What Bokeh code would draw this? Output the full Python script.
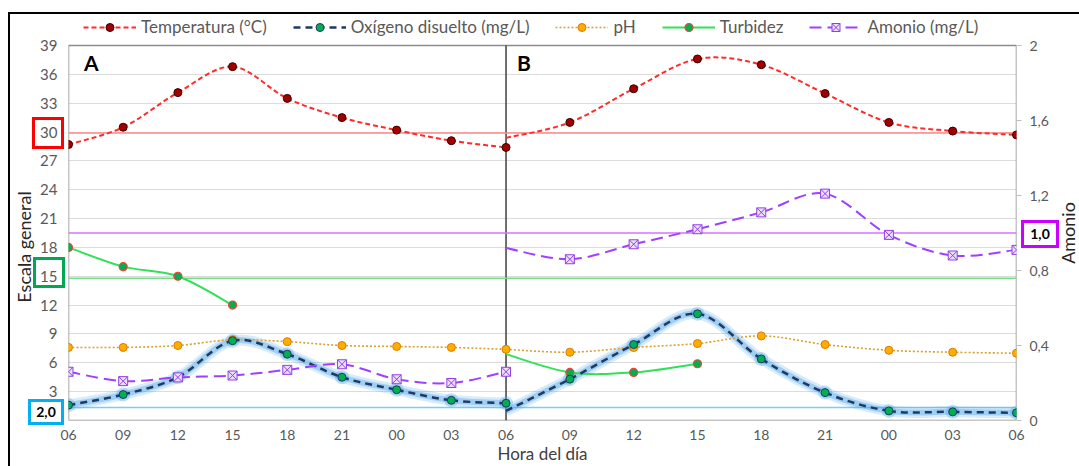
import numpy as np
from bokeh.plotting import figure
from bokeh.models import (Range1d, LinearAxis, FixedTicker, Span, Label, Div, GridBox,
                          Legend, LegendItem, ColumnDataSource, BoxAnnotation)
from bokeh.embed import file_html
from bokeh.resources import INLINE

# ---------------- data ----------------
hours = ["06", "09", "12", "15", "18", "21", "00", "03", "06"]
temp_a = [28.7, 30.5, 34.1, 36.8, 33.5, 31.5, 30.2, 29.1, 28.4]
temp_b = [29.4, 31.0, 34.5, 37.6, 37.0, 34.0, 31.0, 30.1, 29.7]
od_a = [1.6, 2.7, 4.5, 8.3, 6.9, 4.5, 3.2, 2.1, 1.8]
od_b = [1.0, 4.3, 7.9, 11.1, 6.4, 2.9, 1.0, 0.9, 0.8]
ph_a = [7.6, 7.6, 7.8, 8.4, 8.2, 7.8, 7.7, 7.6, 7.4]
ph_b = [7.4, 7.1, 7.6, 8.0, 8.8, 7.9, 7.3, 7.1, 7.0]
turb_a = [18.0, 16.0, 15.0, 12.0]
turb_b = [6.9, 5.0, 5.0, 5.9]
amon_a = [0.26, 0.21, 0.23, 0.24, 0.27, 0.30, 0.22, 0.20, 0.26]
amon_b = [0.92, 0.86, 0.94, 1.02, 1.11, 1.21, 0.99, 0.88, 0.91]
left_ticks = list(range(0, 40, 3))
right_ticks = [0, 0.4, 0.8, 1.2, 1.6, 2]
right_labels = ["0", "0,4", "0,8", "1,2", "1,6", "2"]
ref_temp, ref_turb, ref_od, ref_amon = 29.9, 14.8, 1.35, 1.0
Y_MAX, R_MAX = 39, 2

# panel layout: A and B panels have different widths
A_STEP, B_STEP = 6, 7
xa = [i * A_STEP for i in range(len(hours))]
xb = [xa[-1] + i * B_STEP for i in range(len(hours))]
x_ticks = xa + xb[1:]
x_labels = hours + hours[1:]

W, H = 1079, 466
FONT = "Lato"
TICK_COL = "#595959"
TOP_PAD = 1.08  # extra headroom inside the frame for the legend

y_top = Y_MAX * TOP_PAD
p = figure(width=W, height=H, x_range=Range1d(0, xb[-1]), y_range=Range1d(0, y_top),
           min_border_left=68, min_border_right=63, min_border_top=15, min_border_bottom=46,
           output_backend="svg", toolbar_location=None)
p.extra_y_ranges = {"amonio": Range1d(0, R_MAX * TOP_PAD)}
p.background_fill_color = "white"
p.border_fill_color = "white"
p.outline_line_color = None

# axes
p.xaxis.ticker = FixedTicker(ticks=x_ticks)
p.xaxis.major_label_overrides = {t: l for t, l in zip(x_ticks, x_labels)}
p.yaxis.ticker = FixedTicker(ticks=left_ticks)
p.yaxis.major_label_overrides = {0: ""}
ax_r = LinearAxis(y_range_name="amonio", ticker=FixedTicker(ticks=right_ticks))
ax_r.major_label_overrides = {t: l for t, l in zip(right_ticks, right_labels)}
p.add_layout(ax_r, "right")

for ax in [p.xaxis[0], p.yaxis[0], ax_r]:
    ax.axis_line_color = None
    ax.minor_tick_line_color = None
    ax.major_label_text_font = FONT
    ax.major_label_text_color = TICK_COL
    ax.major_tick_in = 0
for ax in [p.xaxis[0], p.yaxis[0]]:
    ax.major_tick_line_color = None
    ax.major_tick_out = 0
p.xaxis.major_label_text_font_size = "14px"
p.xaxis.major_label_standoff = 9
p.xaxis.axis_label = "Hora del día"
p.xaxis.axis_label_standoff = 0
p.xaxis.axis_label_text_font = FONT
p.xaxis.axis_label_text_font_style = "normal"
p.xaxis.axis_label_text_font_size = "17px"
p.xaxis.axis_label_text_color = "#404040"
p.yaxis.major_label_text_font_size = "15px"
p.yaxis.major_label_standoff = 11
ax_r.major_label_text_font_size = "14px"
ax_r.major_tick_out = 5
ax_r.major_tick_line_color = "#bfbfbf"
ax_r.major_label_standoff = 8

p.xgrid.grid_line_color = None
p.ygrid.ticker = FixedTicker(ticks=left_ticks)
p.ygrid.grid_line_color = "#dcdcdc"
p.ygrid.grid_line_width = 1

# plot-area border and panel separator (limited to the data area)
p.add_layout(BoxAnnotation(left=0, right=xb[-1], bottom=0, top=Y_MAX, fill_color=None,
                           line_color="#8c8c8c", line_alpha=1.0, line_width=1.5,
                           level="underlay"))
p.add_layout(BoxAnnotation(left=xa[-1], right=xa[-1], bottom=0, top=Y_MAX, fill_color=None,
                           line_color="#404040", line_alpha=1.0, line_width=1.0,
                           level="underlay"))

# reference lines
for loc, col, rng in [(ref_temp, "#ff8a8a", "default"), (ref_turb, "#77dd88", "default"),
                      (ref_od, "#77d0f2", "default"), (ref_amon, "#d870ff", "amonio")]:
    p.add_layout(Span(location=loc, dimension="width", line_color=col, line_width=1.5,
                      y_range_name=rng, level="underlay"))


def smooth(x, y):
    x = np.asarray(x, float)
    y = np.asarray(y, float)
    n = len(x)
    xp = np.concatenate([[x[0]], x, [x[-1]]])
    yp = np.concatenate([[y[0]], y, [y[-1]]])
    i = np.arange(n - 1)
    return dict(
        x0=x[i], y0=y[i], x1=x[i + 1], y1=y[i + 1],
        cx0=x[i] + (xp[i + 2] - xp[i]) / 6, cy0=y[i] + (yp[i + 2] - yp[i]) / 6,
        cx1=x[i + 1] - (xp[i + 3] - xp[i + 1]) / 6, cy1=y[i + 1] - (yp[i + 3] - yp[i + 1]) / 6,
    )


def curve(x, y, color, width, dash="solid", alpha=1.0, rng="default"):
    src = ColumnDataSource(smooth(x, y))
    return p.bezier(x0="x0", y0="y0", x1="x1", y1="y1", cx0="cx0", cy0="cy0",
                    cx1="cx1", cy1="cy1", source=src, line_color=color, line_width=width,
                    line_dash=dash, line_alpha=alpha, y_range_name=rng)


def marks(x, y, rng="default", **kw):
    return p.scatter(x, y, y_range_name=rng, **kw)


# oxygen glow
for w, a in [(11, 0.22), (6, 0.4)]:
    curve(xa, od_a, "#4da6ea", w, alpha=a)
    curve(xb, od_b, "#4da6ea", w, alpha=a)
marks(xa, od_a, size=14, fill_color="#4da6ea", fill_alpha=0.35, line_color=None)
marks(xb[1:], od_b[1:], size=14, fill_color="#4da6ea", fill_alpha=0.35, line_color=None)

# pH
ph_sty = dict(marker="circle", size=8, fill_color="#ffae00", line_color="#e07800", line_width=1)
ph_l = curve(xa, ph_a, "#d9a030", 1.6, "2 2")
curve(xb, ph_b, "#d9a030", 1.6, "2 2")
ph_m = marks(xa, ph_a, **ph_sty)
marks(xb[1:], ph_b[1:], **ph_sty)

# turbidez
tb_sty = dict(marker="circle", size=8, fill_color="#00b050", line_color="#ff3b3b", line_width=1.2)
tb_l = curve(xa[:len(turb_a)], turb_a, "#33e05a", 2)
curve(xb[:len(turb_b)], turb_b, "#33e05a", 2)
tb_m = marks(xa[:len(turb_a)], turb_a, **tb_sty)
marks(xb[1:len(turb_b)], turb_b[1:], **tb_sty)

# oxygen
od_sty = dict(marker="circle", size=8, fill_color="#00b050", line_color="#1f3864", line_width=1)
od_l = curve(xa, od_a, "#1f3864", 2.5, "7 5")
curve(xb, od_b, "#1f3864", 2.5, "7 5")
od_m = marks(xa, od_a, **od_sty)
marks(xb[1:], od_b[1:], **od_sty)

# amonio (right axis)
am_sty = dict(marker="square_x", size=9, fill_color="#eadfff", line_color="#9340e0", line_width=1)
am_l = curve(xa, amon_a, "#a040ff", 2, "12 6", rng="amonio")
curve(xb, amon_b, "#a040ff", 2, "12 6", rng="amonio")
am_m = marks(xa, amon_a, rng="amonio", **am_sty)
marks(xb[1:], amon_b[1:], rng="amonio", **am_sty)

# temperature
t_sty = dict(marker="circle", size=8, fill_color="#a00000", line_color="#3a0000", line_width=1)
t_l = curve(xa, temp_a, "#ff2a2a", 2, "5 3")
curve(xb, temp_b, "#ff2a2a", 2, "5 3")
t_m = marks(xa, temp_a, **t_sty)
marks(xb[1:], temp_b[1:], **t_sty)

legend = Legend(items=[
    LegendItem(label="Temperatura (°C)", renderers=[t_l, t_m]),
    LegendItem(label="Oxígeno disuelto (mg/L)", renderers=[od_l, od_m]),
    LegendItem(label="pH", renderers=[ph_l, ph_m]),
    LegendItem(label="Turbidez", renderers=[tb_l, tb_m]),
    LegendItem(label="Amonio (mg/L)", renderers=[am_l, am_m]),
], orientation="horizontal", location=(15, 383), glyph_width=53, glyph_height=20,
    label_standoff=5, spacing=26, padding=0, margin=0, border_line_color=None,
    background_fill_alpha=0, label_text_font=FONT, label_text_font_size="17px",
    label_text_color=TICK_COL)
p.add_layout(legend, "center")

# panel letters
for lx, txt in [(1.7, "A"), (49.2, "B")]:
    p.add_layout(Label(x=lx, y=37.2, text=txt, text_font=FONT, text_font_size="21px",
                       text_font_style="bold", text_baseline="middle", text_color="black"))

# ---------- HTML overlay: axis titles and highlight boxes outside the plot frame ----------
def pos(l, t):
    return f"position:absolute;left:{l}px;top:{t}px;"


def hbox(l, t, w, h, col, bg=False):
    return (f'<div style="{pos(l, t)}width:{w}px;height:{h}px;border:3px solid {col};'
            f'box-sizing:border-box;{"background:white;" if bg else ""}"></div>')


def txt(x, y, s, size=14, weight="bold", color="black", rot=0):
    return (f'<div style="{pos(x, y)}transform:translate(-50%,-50%) rotate({rot}deg);'
            f'font-family:Lato;font-size:{size}px;font-weight:{weight};color:{color};'
            f'white-space:nowrap;line-height:1">{s}</div>')


html = ('<div style="position:relative;width:%dpx;height:%dpx;pointer-events:none">' % (W, H)
        + txt(24, 247, "Escala general", 18, "normal", "#262626", -90)
        + txt(1068, 233, "Amonio", 18, "normal", "#262626", -90)
        + hbox(32, 117, 32, 32, "#ff0000")
        + hbox(33, 257, 32, 31, "#00a850")
        + hbox(28, 399, 36, 26, "#00b0f0", True) + txt(46, 412, "2,0")
        + hbox(1021, 220, 38, 28, "#cc00ff", True) + txt(1040, 234, "1,0")
        + f'<div style="{pos(8, 12)}width:{W - 8}px;height:{H - 12}px;'
          'border-left:2px solid black;border-top:2px solid black;box-sizing:border-box"></div>'
        + '</div>')
overlay = Div(text=html, width=W, height=H, margin=0)

layout = GridBox(children=[(p, 0, 0), (overlay, 0, 0)])
open("out.html", "w").write(file_html(layout, INLINE))
